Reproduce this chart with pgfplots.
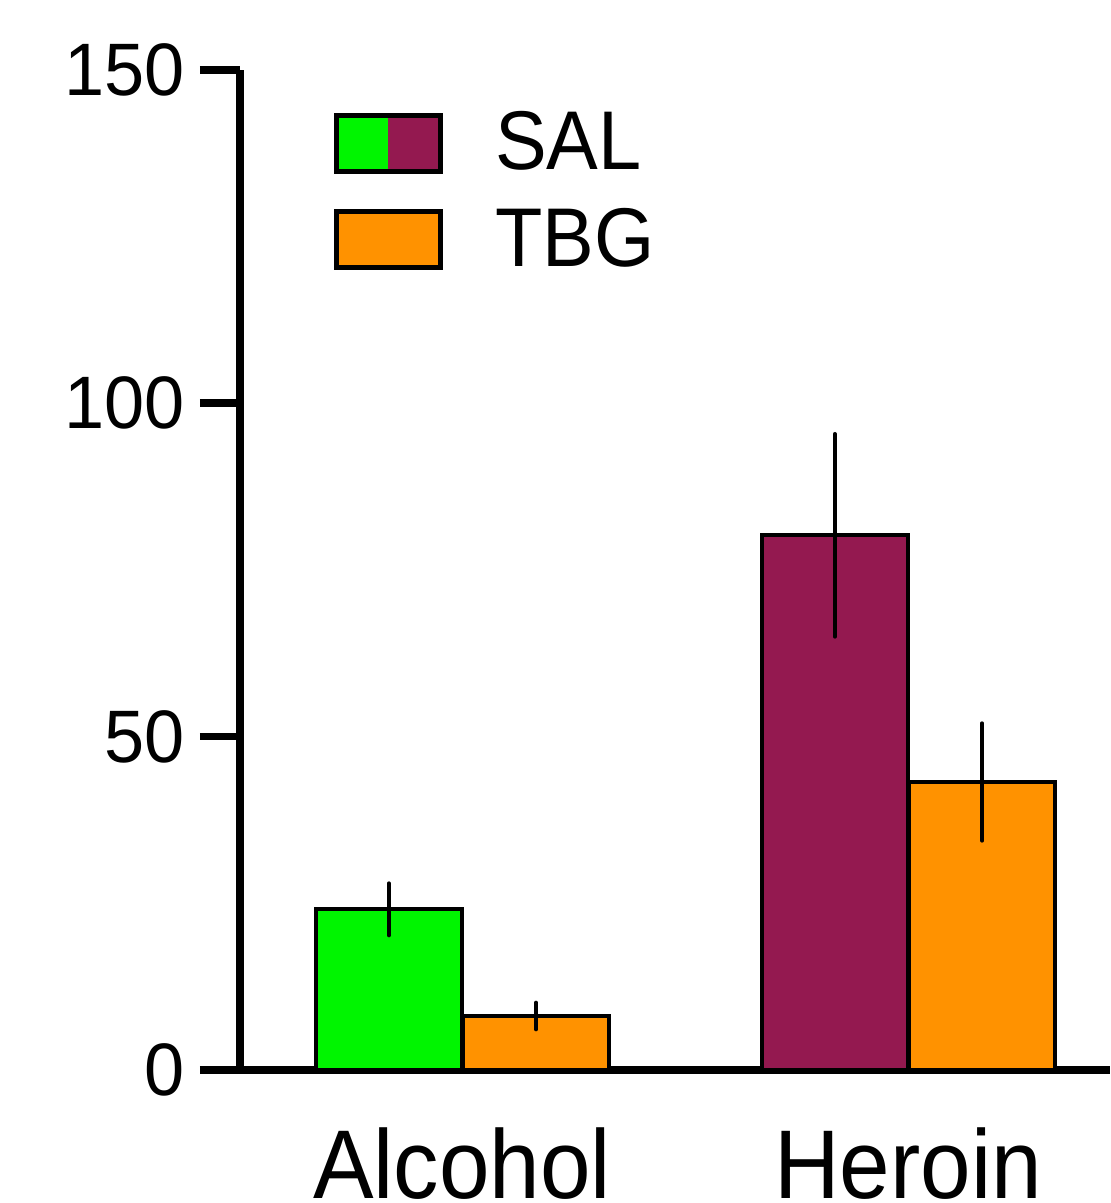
\documentclass[border=0pt]{standalone}
\usepackage{pgfplots}
\pgfplotsset{compat=1.18}
\usepackage{fontspec}
\setmainfont{Liberation Sans}
\newfontfamily\narrowfont[FakeStretch=0.93]{Liberation Sans}
\newfontfamily\ticksfont[FakeStretch=0.97]{Liberation Sans}
\definecolor{cgreen}{RGB}{0,245,0}
\definecolor{cpurple}{RGB}{148,25,80}
\definecolor{corange}{RGB}{255,146,0}
\begin{document}
\begin{tikzpicture}
\begin{axis}[
 name=ax,
 scale only axis, width=261pt, height=300pt,
 xmin=-0.4978, xmax=1.4529, ymin=0, ymax=150,
 axis x line=bottom, axis y line=left,
 axis line style={line width=2.3pt, -},
 xtick={0,1}, xticklabels={Alcohol,Heroin},
 ytick={0,50,100,150},
 major tick length=12pt,
 tick align=outside,
 y tick style={line width=2.3pt, black},
 x tick style={draw=none},
 /pgf/number format/assume math mode=true,
 yticklabel style={font=\ticksfont\fontsize{22.3}{26}\selectfont, inner sep=0pt, xshift=-4.5pt},
 xticklabel style={font=\narrowfont\fontsize{29.3}{34}\selectfont, anchor=base, yshift=-26.4pt},
 ybar, bar width=0.328,
 clip=false,
 error bars/error bar style={line width=1.2pt, black, line cap=round},
 error bars/error mark=none,
 legend style={at={(rel axis cs:0,1)}, anchor=north west, xshift=25pt, yshift=-8.3pt,
   draw=none, fill=none, font=\narrowfont\fontsize{25}{30}\selectfont, row sep=6pt},
 legend cell align=left,
]
\addplot[forget plot, fill=cgreen, draw=black, line width=1.2pt, bar shift=-0.164,
  error bars/.cd, y dir=both, y explicit] coordinates {(0,24.1) +- (0,3.9)};
\addplot[forget plot, fill=corange, draw=black, line width=1.2pt, bar shift=0.166,
  error bars/.cd, y dir=both, y explicit] coordinates {(0,8.1) +- (0,2.0)};
\addplot[forget plot, fill=cpurple, draw=black, line width=1.2pt, bar shift=-0.164,
  error bars/.cd, y dir=both, y explicit] coordinates {(1,80.2) +- (0,15.2)};
\addplot[forget plot, fill=corange, draw=black, line width=1.2pt, bar shift=0.166,
  error bars/.cd, y dir=both, y explicit] coordinates {(1,43.2) +- (0,8.8)};
\addlegendimage{legend image code/.code={
  \fill[cgreen] (0pt,-8.4pt) rectangle (15.6pt,8.4pt);
  \fill[cpurple] (15.6pt,-8.4pt) rectangle (31.2pt,8.4pt);
  \draw[line width=1.5pt, fill=none] (0pt,-8.4pt) rectangle (31.2pt,8.4pt);
  \path[draw=none, fill=none] (0pt,0pt) -- (45.6pt,0pt);}}
\addlegendentry{SAL}
\addlegendimage{legend image code/.code={
  \draw[line width=1.5pt, fill=corange] (0pt,-8.4pt) rectangle (31.2pt,8.4pt);
  \path[draw=none, fill=none] (0pt,0pt) -- (45.6pt,0pt);}}
\addlegendentry{TBG}
\end{axis}
\pgfresetboundingbox
\path ([shift={(-72pt,-39.9pt)}]ax.south west) rectangle ([shift={(0pt,21pt)}]ax.north east);
\end{tikzpicture}
\end{document}
